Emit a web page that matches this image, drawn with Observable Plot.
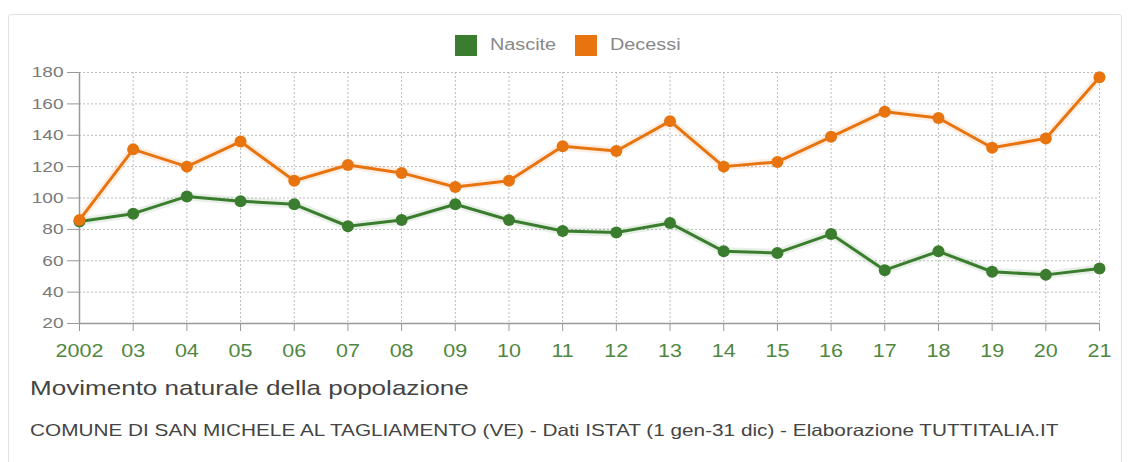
<!DOCTYPE html>
<html><head><meta charset="utf-8">
<script src="https://cdn.jsdelivr.net/npm/d3@7"></script>
<script src="https://cdn.jsdelivr.net/npm/@observablehq/plot@0.6"></script>
<style>
body{margin:0;background:#fff;font-family:"Liberation Sans",Arial,sans-serif;}
#card{position:absolute;left:8px;top:14px;width:1114px;height:470px;border:1px solid #e2e2e2;border-radius:3px;box-sizing:border-box;}
.sw{position:absolute;width:22px;height:21px;top:35px;}
.lt{position:absolute;top:36px;font-size:16px;color:#888;transform:scaleX(1.24);transform-origin:left center;white-space:nowrap;}
#chart{position:absolute;left:0;top:60px;}
#title{position:absolute;left:30px;top:376px;font-size:21px;color:#444;transform:scaleX(1.24);transform-origin:left center;white-space:nowrap;}
#caption{position:absolute;left:30px;top:421px;font-size:16.5px;color:#444;transform:scaleX(1.258);transform-origin:left center;white-space:nowrap;}
</style></head>
<body>
<div id="card"></div>
<div id="legend"></div>
<div id="chart"></div>
<div id="title">Movimento naturale della popolazione</div>
<div id="caption">COMUNE DI SAN MICHELE AL TAGLIAMENTO (VE) - Dati ISTAT (1 gen-31 dic) - Elaborazione TUTTITALIA.IT</div>
<script>
const years = [2002,2003,2004,2005,2006,2007,2008,2009,2010,2011,2012,2013,2014,2015,2016,2017,2018,2019,2020,2021];
const nascite = [85,90,101,98,96,82,86,96,86,79,78,84,66,65,77,54,66,53,51,55];
const decessi = [86,131,120,136,111,121,116,107,111,133,130,149,120,123,139,155,151,132,138,177];
const seriesNames = ["Nascite","Decessi"];
const seriesColors = ["#3b7d2e","#e8740f"];
const yTicks = [20,40,60,80,100,120,140,160,180];

const data = [];
years.forEach((y,i)=>{
  data.push({year:y, value:nascite[i], serie:"Nascite"});
  data.push({year:y, value:decessi[i], serie:"Decessi"});
});

// legend
const legend = document.getElementById("legend");
const legendPos = [[455,490],[575,610]];
seriesNames.forEach((n,i)=>{
  const sw = document.createElement("div"); sw.className="sw";
  sw.style.left = legendPos[i][0]+"px"; sw.style.background = seriesColors[i];
  const t = document.createElement("div"); t.className="lt";
  t.style.left = legendPos[i][1]+"px"; t.textContent = n;
  legend.appendChild(sw); legend.appendChild(t);
});

const fmt = d=> d===2002 ? "2002" : String(d).slice(2);
const plot = Plot.plot({
  width:1134, height:310,
  marginLeft:79, marginRight:35, marginTop:12, marginBottom:47,
  style:{fontFamily:"Liberation Sans, Arial, sans-serif", background:"transparent", overflow:"visible"},
  x:{domain:[2002,2021], ticks:years, tickFormat:fmt},
  y:{domain:[20,180], ticks:yTicks},
  color:{domain:seriesNames, range:seriesColors},
  marks:[
    Plot.gridY(yTicks,{stroke:"#bbb", strokeOpacity:1, strokeDasharray:"2,2"}),
    Plot.gridX(years.slice(1),{stroke:"#bbb", strokeOpacity:1, strokeDasharray:"2,2"}),
    Plot.axisY({ticks:yTicks, tickSize:12, tickPadding:4, fontSize:15.5, fill:"#7a7a7a", stroke:"#999", label:null}),
    Plot.axisX({ticks:years, tickFormat:fmt, tickSize:8, tickPadding:13, fontSize:17.5, fill:"#4f8741", stroke:"#999", label:null}),
    Plot.ruleY([20],{stroke:"#999", strokeWidth:1.5}),
    Plot.ruleX([2002],{stroke:"#999", strokeWidth:1.5}),
    Plot.line(data,{x:"year", y:"value", z:"serie", stroke:"serie", strokeWidth:8, strokeOpacity:0.12}),
    Plot.line(data,{x:"year", y:"value", z:"serie", stroke:"serie", strokeWidth:3}),
    Plot.dot(data,{x:"year", y:"value", fill:"serie", r:6})
  ]
});
// widen tick label glyphs horizontally, as in the reference
plot.querySelectorAll("text").forEach(t=>{
  const tr = t.getAttribute("transform") || "";
  t.setAttribute("transform", tr + " scale(1.23,1)");
});
document.getElementById("chart").appendChild(plot);
</script>
</body></html>
